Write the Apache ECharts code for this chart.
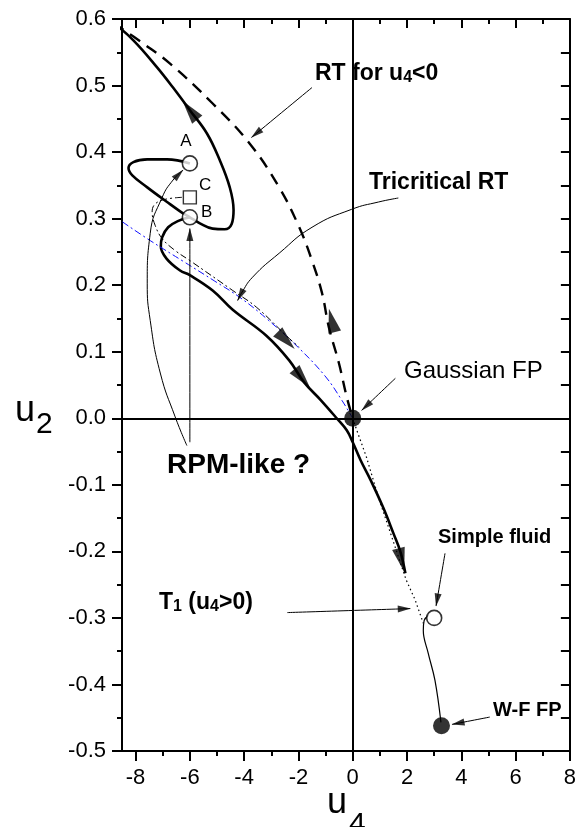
<!DOCTYPE html>
<html>
<head>
<meta charset="utf-8">
<script src="https://cdn.jsdelivr.net/npm/echarts@6/dist/echarts.min.js"></script>
<style>
html, body { margin: 0; padding: 0; background: #fff; }
#chart { width: 579px; height: 827px; }
</style>
</head>
<body>
<div id="chart"></div>
<script>
(function(){

    var xMajor = [-8, -6, -4, -2, 0, 2, 4, 6, 8];
    var xMinor = [-7, -5, -3, -1, 1, 3, 5, 7];

    // flow lines, points are [u4, u2]
    var loopFlow = [
        [-6.00, 0.383], [-6.84, 0.389], [-7.57, 0.389], [-8.08, 0.385], [-8.26, 0.376],
        [-8.12, 0.365], [-7.57, 0.347], [-6.84, 0.325], [-6.36, 0.311], [-6.00, 0.302],
        [-5.63, 0.293], [-5.16, 0.285], [-4.72, 0.284], [-4.46, 0.292], [-4.39, 0.313],
        [-4.53, 0.347], [-4.90, 0.388], [-5.37, 0.428], [-6.00, 0.463], [-6.62, 0.497],
        [-7.20, 0.527], [-8.08, 0.568], [-8.81, 0.594]
    ];
    var downFlow = [
        [-6.00, 0.302], [-6.40, 0.297], [-6.80, 0.287], [-7.02, 0.272], [-7.07, 0.258],
        [-6.86, 0.240], [-6.36, 0.222], [-6.00, 0.215], [-5.16, 0.192], [-4.42, 0.163],
        [-3.18, 0.124], [-2.34, 0.087], [-1.79, 0.054], [-1.17, 0.027], [-0.59, 0.000],
        [-0.22, -0.018], [0.00, -0.036], [0.29, -0.063], [0.66, -0.093], [1.13, -0.135],
        [1.50, -0.173], [1.76, -0.201], [1.94, -0.233]
    ];
    var rtNegative = [
        [-8.81, 0.594], [-7.71, 0.563], [-6.73, 0.533], [-5.16, 0.473], [-3.80, 0.413],
        [-2.71, 0.347], [-1.97, 0.287], [-1.50, 0.237], [-1.13, 0.188], [-0.88, 0.137],
        [-0.51, 0.083], [-0.22, 0.032], [0, 0]
    ];
    var tricriticalRT = [
        [-8.48, 0.295], [-7.46, 0.267], [-6.25, 0.236], [-5.08, 0.206], [-4.17, 0.182],
        [-3.18, 0.150], [-1.97, 0.105], [-0.99, 0.062], [-0.40, 0.027], [0, 0]
    ];
    var cFlow = [
        [-6.29, 0.332], [-6.91, 0.329], [-7.28, 0.322], [-7.39, 0.310], [-7.28, 0.290],
        [-7.02, 0.270], [-6.54, 0.252], [-6.00, 0.237], [-4.42, 0.192], [-3.55, 0.167],
        [-2.34, 0.120], [-1.97, 0.107]
    ];
    var t1Line = [
        [0, 0], [0.15, -0.018], [0.51, -0.059], [0.95, -0.119], [1.97, -0.243],
        [2.30, -0.273], [2.60, -0.308]
    ];
    var sfToWF = [
        [2.80, -0.296], [2.63, -0.304], [2.60, -0.319], [2.78, -0.353], [3.03, -0.394], [3.25, -0.457]
    ];

    var openPoints = [[-6.0, 0.383], [-6.0, 0.302], [3.0, -0.300]];
    var squarePoints = [[-6.0, 0.332]];
    var fixedPoints = [[0, 0], [3.27, -0.462]];

    var flowArrows = [[-6.00, 0.463], [-1.86, 0.060], [1.79, -0.213], [-2.45, 0.117], [-0.77, 0.147]];

    // annotation pointers, last point is the tip
    var ptrRT = [[-1.50, 0.497], [-3.73, 0.422]];
    var ptrTricritical = [
        [1.68, 0.331], [0.95, 0.325], [-0.04, 0.314], [-1.50, 0.287], [-2.71, 0.248],
        [-3.69, 0.212], [-4.10, 0.188], [-4.24, 0.177]
    ];
    var ptrGaussian = [[1.57, 0.060], [0.33, 0.012]];
    var ptrRpmB = [[-6.00, -0.036], [-6.00, 0.285]];
    var ptrRpmA = [
        [-6.11, -0.041], [-6.54, 0.002], [-7.09, 0.068], [-7.46, 0.147], [-7.57, 0.203],
        [-7.46, 0.278], [-7.02, 0.332], [-6.62, 0.358], [-6.25, 0.373]
    ];
    var ptrT1 = [[-2.41, -0.292], [2.12, -0.286]];
    var ptrSimple = [[3.40, -0.203], [3.07, -0.282]];
    var ptrWF = [[5.05, -0.449], [3.66, -0.460]];
    var pointers = [ptrRT, ptrTricritical, ptrGaussian, ptrRpmB, ptrRpmA, ptrT1, ptrSimple, ptrWF];

    var FONT = 'Liberation Sans';
    var myChart = echarts.init(document.getElementById('chart'));

    var arrowAngles = [38, 220, 194, 225, 14];

    function xAx(pos, ticks, len, inside, showLine, showLabel) {
        return {
            type: 'value', position: pos, min: -8.5, max: 8,
            axisLine: { show: showLine, onZero: false, lineStyle: { color: '#000', width: 2 } },
            axisTick: { show: true, inside: inside, length: len, customValues: ticks,
                lineStyle: { color: '#000', width: 2 } },
            axisLabel: { show: showLabel, customValues: ticks, margin: 16,
                color: '#000', fontFamily: FONT, fontSize: 22 },
            splitLine: { show: false }
        };
    }
    function yAx(pos, inside, len, minorLen, showLabel) {
        return {
            type: 'value', position: pos, min: -0.5, max: 0.6, interval: 0.1,
            axisLine: { show: true, onZero: false, lineStyle: { color: '#000', width: 2 } },
            axisTick: { show: true, inside: inside, length: len, lineStyle: { color: '#000', width: 2 } },
            minorTick: { show: true, splitNumber: 2, length: minorLen, lineStyle: { color: '#000', width: 2 } },
            axisLabel: { show: showLabel, margin: 16, color: '#000', fontFamily: FONT, fontSize: 22,
                formatter: function (v) { return v.toFixed(1); } },
            splitLine: { show: false },
            minorSplitLine: { show: false }
        };
    }

    function lineSeries(data, style, extra) {
        var s = {
            type: 'line', data: data, symbol: 'none', smooth: 0.4, clip: false,
            lineStyle: style, silent: true, z: 3
        };
        for (var k in extra) s[k] = extra[k];
        return s;
    }

    var sub = function (t) {
        return '{s|' + t + '}';
    };
    function note(x, y, text, size, bold, align) {
        var weight = bold ? 'bold' : 'normal';
        return {
            type: 'text', x: x, y: y, z: 10,
            style: {
                text: text, fill: '#000',
                font: weight + ' ' + size + 'px "' + FONT + '"',
                align: align || 'left', verticalAlign: 'middle',
                rich: {
                    b: { fontFamily: FONT, fontSize: size, fontWeight: weight, verticalAlign: 'top', lineHeight: size },
                    s: { fontFamily: FONT, fontSize: Math.round(size * 0.68), fontWeight: weight,
                        verticalAlign: 'bottom', lineHeight: Math.round(size * 0.68), padding: [Math.round(size * 0.45), 0, 0, 0] }
                }
            }
        };
    }

    var series = [
        {
            type: 'line', data: [], silent: true, z: 1,
            markLine: {
                silent: true, symbol: 'none', animation: false,
                label: { show: false },
                lineStyle: { color: '#000', width: 2, type: 'solid' },
                data: [{ xAxis: 0 }, { yAxis: 0 }]
            }
        },
        lineSeries(loopFlow, { color: '#000', width: 2.6 }),
        lineSeries(downFlow, { color: '#000', width: 2.6 }),
        lineSeries(rtNegative, { color: '#000', width: 2.4, type: [12, 8] }),
        lineSeries(tricriticalRT, { color: '#1010ff', width: 1, type: [7, 3, 2, 3] }),
        lineSeries(cFlow, { color: '#000', width: 1, type: [7, 3, 2, 3] }),
        lineSeries(t1Line, { color: '#000', width: 1.2, type: [1.5, 3] }, { smooth: false }),
        lineSeries(sfToWF, { color: '#000', width: 1.2 }),
        {
            type: 'scatter', silent: true, z: 5, symbol: 'triangle', symbolSize: [13, 24],
            itemStyle: { color: '#000' },
            data: flowArrows.map(function (p, i) {
                return { value: p, symbolRotate: arrowAngles[i] };
            })
        },
        {
            type: 'scatter', silent: true, z: 6, symbol: 'circle', symbolSize: 15,
            itemStyle: { color: '#fff', borderColor: '#000', borderWidth: 1.6 },
            data: openPoints
        },
        {
            type: 'scatter', silent: true, z: 6, symbol: 'rect', symbolSize: 13,
            itemStyle: { color: '#fff', borderColor: '#000', borderWidth: 1.4 },
            data: squarePoints
        },
        {
            type: 'scatter', silent: true, z: 6, symbol: 'circle', symbolSize: 17,
            itemStyle: { color: '#000' },
            data: fixedPoints
        }
    ];
    pointers.forEach(function (p) {
        series.push(lineSeries(p, { color: '#000', width: 1 }, { z: 4, smooth: 0.5 }));
    });

    var option = {
        animation: false,
        backgroundColor: '#fff',
        grid: { left: 122, right: 6, top: 19, bottom: 76 },
        xAxis: [
            xAx('bottom', xMajor, 10, false, true, true),
            xAx('bottom', xMinor, 5, false, false, false),
            xAx('top', xMajor, 9, true, true, false),
            xAx('top', xMinor, 5, true, false, false)
        ],
        yAxis: [
            yAx('left', false, 10, 5, true),
            yAx('right', true, 9, 9, false)
        ],
        graphic: [
            note(315, 74, '{b|RT for u}' + sub('4') + '{b|<0}', 23, true),
            note(369, 183, 'Tricritical RT', 23, true),
            note(404, 371, 'Gaussian FP', 24, false),
            note(167, 465, 'RPM-like ?', 28, true),
            note(438, 537, 'Simple fluid', 20, true),
            note(159, 603, '{b|T}' + sub('1') + '{b| (u}' + sub('4') + '{b|>0)}', 23, true),
            note(493, 710, 'W-F FP', 20, true),
            note(186, 141, 'A', 17, false, 'center'),
            note(199, 185, 'C', 17, false),
            note(201, 212, 'B', 17, false),
            note(327, 803, 'u', 36, false),
            note(349, 825, '4', 30, false),
            note(15, 411, 'u', 36, false),
            note(36, 425, '2', 30, false)
        ],
        series: series
    };

    myChart.setOption(option);

    // arrowheads of the pointers, turned along the last segment
    var ref = { xAxisIndex: 0, yAxisIndex: 0 };
    var heads = pointers.map(function (p) {
        var a = myChart.convertToPixel(ref, p[p.length - 2]);
        var b = myChart.convertToPixel(ref, p[p.length - 1]);
        var dx = b[0] - a[0], dy = b[1] - a[1];
        var len = Math.sqrt(dx * dx + dy * dy);
        var c = [b[0] - dx / len * 6, b[1] - dy / len * 6];
        return {
            value: myChart.convertFromPixel(ref, c),
            symbolRotate: Math.atan2(-dx, -dy) * 180 / Math.PI
        };
    });
    series.push({
        type: 'scatter', silent: true, z: 7, symbol: 'triangle', symbolSize: [7, 13],
        itemStyle: { color: '#000' }, data: heads
    });
    myChart.setOption({ series: series });
})();
</script>
</body>
</html>
